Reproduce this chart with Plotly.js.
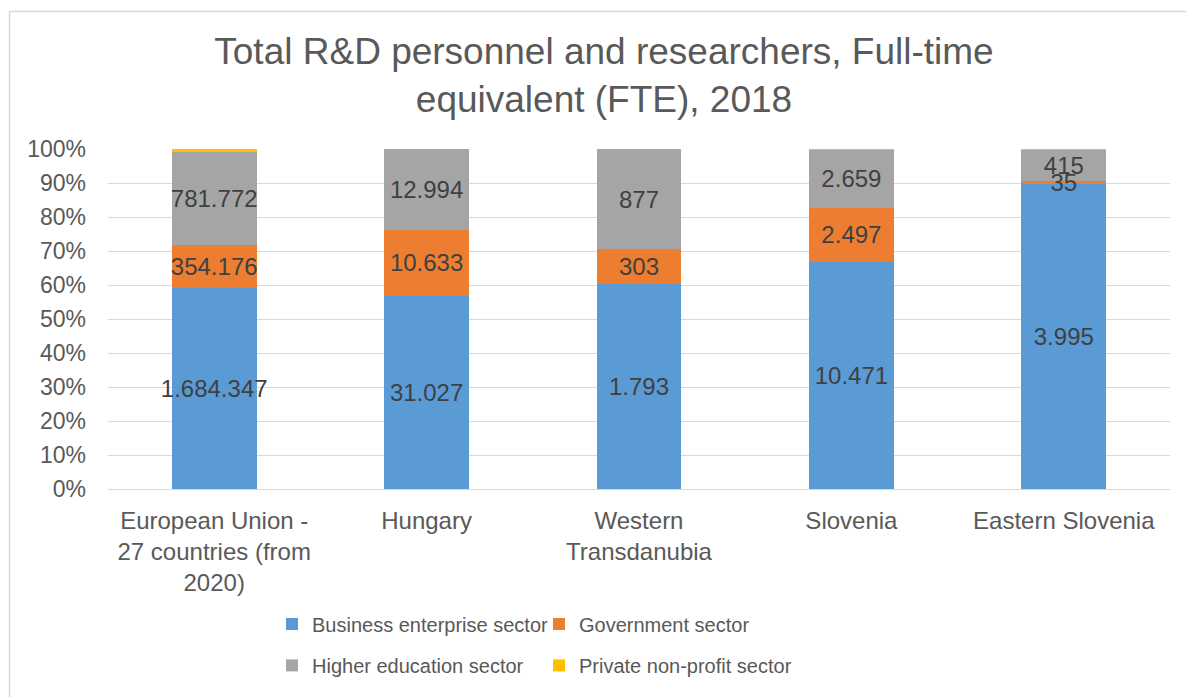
<!DOCTYPE html>
<html>
<head>
<meta charset="utf-8">
<script src="https://cdn.plot.ly/plotly-3.0.1.min.js"></script>
<style>
html,body{margin:0;padding:0;background:#fff;}
#chart{width:1186px;height:697px;}
</style>
</head>
<body>
<div id="chart"></div>
<script>
var categories = ["European Union -<br>27 countries (from<br>2020)", "Hungary", "Western<br>Transdanubia", "Slovenia", "Eastern Slovenia"];
var businessValues = [1684347, 31027, 1793, 10471, 3995];
var governmentValues = [354176, 10633, 303, 2497, 35];
var higherEduValues = [781772, 12994, 877, 2659, 415];
var privateValues = [25000, 0, 0, 40, 8];
var seriesNames = ["Business enterprise sector", "Government sector", "Higher education sector", "Private non-profit sector"];
var yTickVals = [0, 10, 20, 30, 40, 50, 60, 70, 80, 90, 100];
var yTickText = ["0%", "10%", "20%", "30%", "40%", "50%", "60%", "70%", "80%", "90%", "100%"];

var FONT = "Liberation Sans, Arial, sans-serif";
var colors = ["#5B9BD5", "#ED7D31", "#A5A5A5", "#FFC000"];
var allValues = [businessValues, governmentValues, higherEduValues, privateValues];
var legendIds = ["legend", "legend2", "legend3", "legend4"];

var traces = allValues.map(function (vals, i) {
  return {
    type: "bar",
    name: seriesNames[i],
    x: categories,
    y: vals,
    customdata: vals,
    texttemplate: "%{customdata:,}",
    textposition: i === 3 ? "none" : "inside",
    insidetextanchor: "middle",
    constraintext: "none",
    textangle: 0,
    insidetextfont: {family: FONT, size: 24, color: "#404040"},
    marker: {color: colors[i], line: {width: 0}},
    hoverinfo: "none",
    showlegend: true,
    legend: legendIds[i]
  };
});

var px = function (p) { return (p - 108) / 1062; };
var py = function (p) { return (494 - p) / 345; };

function mkLegend(xPix, yPix) {
  return {
    visible: true,
    orientation: "h",
    xref: "paper", yref: "paper",
    x: px(xPix), y: py(yPix),
    xanchor: "left", yanchor: "middle",
    font: {family: FONT, size: 20, color: "#595959"},
    bgcolor: "rgba(0,0,0,0)",
    traceorder: "normal",
    itemclick: false, itemdoubleclick: false
  };
}

var layout = {
  width: 1186,
  height: 697,
  showlegend: true,
  margin: {l: 108, r: 16, t: 149, b: 203, pad: 0},
  paper_bgcolor: "#ffffff",
  plot_bgcolor: "#ffffff",
  separators: ",.",
  barmode: "stack",
  barnorm: "percent",
  bargap: 0.6,
  font: {family: FONT, color: "#595959"},
  title: {
    text: "Total R&D personnel and researchers, Full-time<br>equivalent (FTE), 2018",
    font: {family: FONT, size: 37, color: "#595959"},
    xref: "container", x: 604 / 1186, xanchor: "center",
    yref: "container", y: 1 - 64 / 697, yanchor: "middle"
  },
  xaxis: {
    type: "category",
    showgrid: false,
    zeroline: false,
    showline: false,
    ticks: "",
    tickfont: {family: FONT, size: 24, color: "#595959"},
    ticklabelstandoff: 15,
    fixedrange: true
  },
  yaxis: {
    range: [0, 100],
    tickvals: yTickVals,
    ticktext: yTickText,
    showgrid: true,
    gridcolor: "#D9D9D9",
    gridwidth: 1,
    zeroline: true,
    zerolinecolor: "#D9D9D9",
    zerolinewidth: 1,
    showline: false,
    ticks: "",
    tickfont: {family: FONT, size: 23, color: "#595959"},
    ticklabelstandoff: 21,
    fixedrange: true
  },
  legend: mkLegend(272, 631),
  legend2: mkLegend(539, 631),
  legend3: mkLegend(272, 673),
  legend4: mkLegend(539, 673),
  shapes: [{
    type: "rect", xref: "paper", yref: "paper",
    x0: px(9.5), x1: px(1200), y0: py(720), y1: py(9.5),
    line: {color: "#D9D9D9", width: 1.5},
    fillcolor: "rgba(0,0,0,0)",
    layer: "below"
  }]
};

Plotly.newPlot("chart", traces, layout, {staticPlot: true, displayModeBar: false}).then(function (gd) {
  // keep the bar value labels above all bar segments (as in the reference)
  var layer = gd.querySelector(".barlayer");
  if (layer) {
    var texts = layer.querySelectorAll("text.bartext");
    texts.forEach(function (t) { layer.appendChild(t); });
  }
});
</script>
</body>
</html>
